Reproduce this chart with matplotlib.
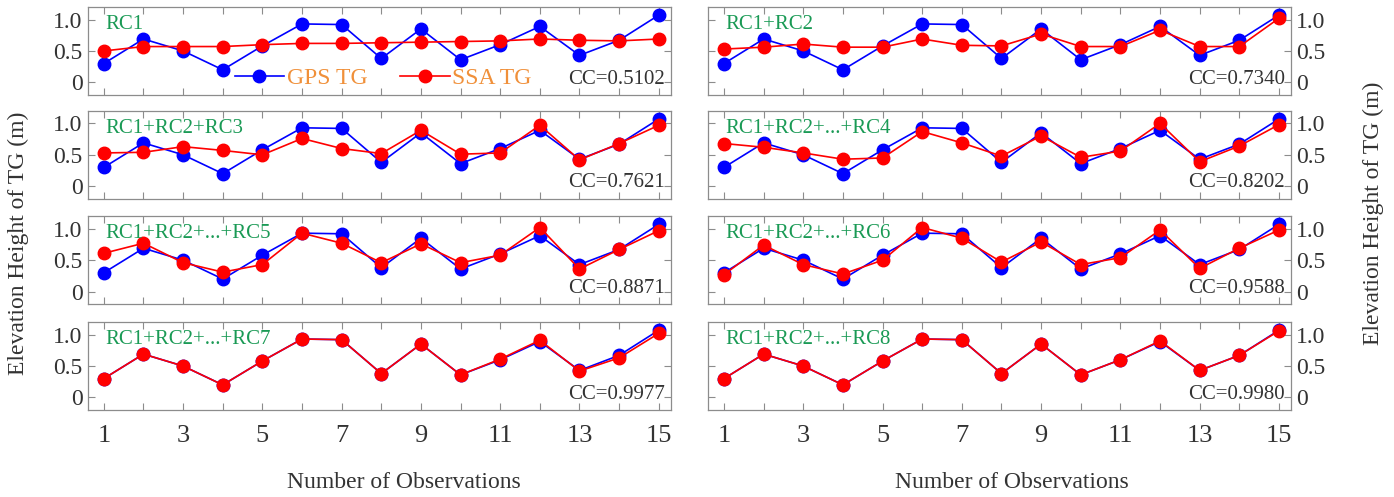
import matplotlib
matplotlib.use('Agg')
import matplotlib.pyplot as plt

plt.rcParams['font.family'] = ['Liberation Serif', 'DejaVu Serif']

# observation index
obs = list(range(1, 16))

# GPS tide gauge heights (same in every panel)
gps_tg = [0.30, 0.69, 0.50, 0.20, 0.58, 0.93, 0.92, 0.38, 0.85, 0.36, 0.60, 0.89, 0.43, 0.67, 1.07]

# SSA reconstructions with increasing number of components
ssa_rc1 = [0.50, 0.57, 0.57, 0.57, 0.60, 0.62, 0.62, 0.63, 0.64, 0.65, 0.66, 0.69, 0.67, 0.66, 0.69]
ssa_rc2 = [0.53, 0.56, 0.61, 0.56, 0.56, 0.69, 0.59, 0.58, 0.77, 0.57, 0.57, 0.83, 0.57, 0.57, 1.02]
ssa_rc3 = [0.53, 0.54, 0.63, 0.57, 0.50, 0.76, 0.60, 0.52, 0.89, 0.51, 0.53, 0.97, 0.42, 0.68, 0.97]
ssa_rc4 = [0.68, 0.62, 0.53, 0.43, 0.45, 0.87, 0.69, 0.48, 0.80, 0.46, 0.56, 1.00, 0.39, 0.64, 0.98]
ssa_rc5 = [0.61, 0.77, 0.46, 0.31, 0.43, 0.93, 0.77, 0.46, 0.76, 0.46, 0.58, 1.02, 0.36, 0.67, 0.97]
ssa_rc6 = [0.27, 0.74, 0.43, 0.28, 0.50, 1.02, 0.85, 0.47, 0.79, 0.43, 0.54, 0.98, 0.37, 0.69, 0.98]
ssa_rc7 = [0.30, 0.69, 0.50, 0.20, 0.58, 0.93, 0.92, 0.38, 0.85, 0.36, 0.61, 0.91, 0.42, 0.63, 1.02]
ssa_rc8 = [0.30, 0.69, 0.50, 0.20, 0.58, 0.93, 0.92, 0.38, 0.85, 0.36, 0.60, 0.90, 0.43, 0.67, 1.06]

ssa_series = [ssa_rc1, ssa_rc2, ssa_rc3, ssa_rc4, ssa_rc5, ssa_rc6, ssa_rc7, ssa_rc8]
rc_labels = ['RC1', 'RC1+RC2', 'RC1+RC2+RC3', 'RC1+RC2+...+RC4',
             'RC1+RC2+...+RC5', 'RC1+RC2+...+RC6', 'RC1+RC2+...+RC7', 'RC1+RC2+...+RC8']
cc_values = ['0.5102', '0.7340', '0.7621', '0.8202', '0.8871', '0.9588', '0.9977', '0.9980']

fig = plt.figure(figsize=(13.94, 4.97), dpi=100)

lefts = [0.0631, 0.508]
width = 0.418
bottoms = [0.809, 0.600, 0.388, 0.175]
height = 0.177

frame_col = '#8c8c8c'
text_col = '#333333'

for i in range(8):
    row = i // 2
    col = i % 2
    ax = fig.add_axes([lefts[col], bottoms[row], width, height])
    ax.plot(obs, gps_tg, '-o', color='#0000ff', lw=1.2, ms=9, label='GPS TG')
    ax.plot(obs, ssa_series[i], '-o', color='#ff0000', lw=1.2, ms=9, label='SSA TG')
    ax.set_xlim(0.6, 15.3)
    ax.set_ylim(-0.2, 1.2)
    ax.set_xticks(obs)
    ax.set_yticks([0, 0.5, 1.0])
    ax.set_yticklabels(['0', '0.5', '1.0'])
    if row == 3:
        ax.set_xticklabels([str(n) if n % 2 == 1 else '' for n in obs])
    else:
        ax.set_xticklabels([])
    for s in ax.spines.values():
        s.set_color(frame_col)
        s.set_linewidth(0.9)
    ax.tick_params(axis='both', direction='in', length=5, color=frame_col,
                   top=True, right=True, labelcolor=text_col)
    ax.tick_params(axis='x', labelsize=19, pad=11)
    ax.tick_params(axis='y', labelsize=17, pad=4)
    if col == 1:
        ax.yaxis.tick_right()
        ax.tick_params(axis='y', left=True, direction='in')
    ax.text(0.03, 0.80, rc_labels[i], transform=ax.transAxes, fontsize=15,
            color='#1a9a55', va='center', ha='left')
    ax.text(0.99, 0.18, 'CC=' + cc_values[i], transform=ax.transAxes, fontsize=15,
            color=text_col, va='center', ha='right')
    if i == 0:
        leg = ax.legend(loc='center left', bbox_to_anchor=(4.3, 0.06),
                        bbox_transform=ax.transData, ncol=2, frameon=False,
                        fontsize=17, handlelength=2.1, columnspacing=1.4,
                        handletextpad=0.1, borderpad=0, borderaxespad=0)
        for t in leg.get_texts():
            t.set_color('#f0903a')

fig.text(0.29, 0.03, 'Number of Observations', fontsize=17, color=text_col, ha='center', va='center')
fig.text(0.726, 0.03, 'Number of Observations', fontsize=17, color=text_col, ha='center', va='center')
fig.text(0.013, 0.51, 'Elevation Height of TG (m)', fontsize=17, color=text_col,
         rotation=90, ha='center', va='center')
fig.text(0.985, 0.57, 'Elevation Height of TG (m)', fontsize=17, color=text_col,
         rotation=90, ha='center', va='center')

fig.savefig('out.png', dpi=100)
